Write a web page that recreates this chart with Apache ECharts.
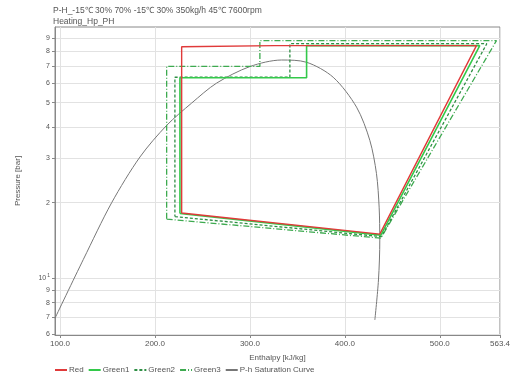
<!DOCTYPE html>
<html>
<head>
<meta charset="utf-8">
<script src="https://cdn.jsdelivr.net/npm/echarts@6/dist/echarts.min.js"></script>
<style>
  html, body { margin: 0; padding: 0; background: #fff; }
  #chart { width: 513px; height: 378px; }
</style>
</head>
<body>
<div id="chart"></div>
<script>
// tick values
const xTicks = [100, 200, 300, 400, 500, 563.4]
const yTicks = [0.6, 0.7, 0.8, 0.9, 1, 2, 3, 4, 5, 6, 7, 8, 9]

// cycles (enthalpy kJ/kg, pressure bar)
const redH = [228.1, 436.8, 538.6, 326, 326, 228.1, 228.1]
const redP = [1.82, 1.50, 8.43, 8.43, 8.35, 8.35, 1.82]
const green1H = [226.3, 437.9, 542.1, 359.7, 359.7, 226.3, 226.3]
const green1P = [1.81, 1.486, 8.43, 8.43, 6.28, 6.28, 1.81]
const green2H = [221, 438.5, 549.5, 342.1, 342.1, 221, 221]
const green2P = [1.76, 1.465, 8.58, 8.58, 6.31, 6.31, 1.76]
const green3H = [212.3, 437.9, 559.7, 310.5, 310.5, 212.3, 212.3]
const green3P = [1.72, 1.445, 8.83, 8.83, 6.97, 6.97, 1.72]

// saturation curve
const satH = [94.7, 124.6, 154.4, 184.2, 212.3, 238.6, 264.9, 300, 333.3, 359.6, 387.7, 412.3, 426.3, 433.3, 436.1, 436.8, 435.4, 431.6]
const satP = [0.694, 1.19, 2.0, 3.04, 4.06, 4.98, 5.98, 6.96, 7.39, 7.24, 6.31, 4.80, 3.54, 2.61, 1.92, 1.42, 0.985, 0.683]

const zip = (h, p) => h.map((v, i) => [v, p[i]])

const chart = echarts.init(document.getElementById('chart'))
const font = 'Liberation Sans, Arial, sans-serif'

const option = {
  animation: false,
  textStyle: { fontFamily: font },
  title: {
    text: 'P-H_-15℃ 30% 70% -15℃ 30% 350kg/h 45℃ 7600rpm',
    subtext: 'Heating_Hp_PH',
    left: 53,
    top: 5,
    itemGap: 0,
    padding: 0,
    textStyle: { fontSize: 8.5, fontWeight: 'normal', color: '#555', lineHeight: 11 },
    subtextStyle: { fontSize: 8.5, color: '#555', lineHeight: 11 }
  },
  legend: {
    left: 54,
    top: 366,
    itemWidth: 12,
    itemHeight: 8,
    itemGap: 4,
    padding: 0,
    itemStyle: { opacity: 0 },
    textStyle: { fontSize: 8, color: '#555', padding: [0, 0, 0, -3] },
    data: ['Red', 'Green1', 'Green2', 'Green3', 'P-h Saturation Curve']
  },
  grid: {
    left: 55,
    right: 12.5,
    top: 27,
    bottom: 43,
    show: true,
    borderColor: '#888',
    borderWidth: 1
  },
  xAxis: {
    type: 'value',
    min: 94.7,
    max: 563.4,
    name: 'Enthalpy [kJ/kg]',
    nameLocation: 'middle',
    nameGap: 19,
    nameTextStyle: { fontSize: 8, color: '#555' },
    axisLine: { lineStyle: { color: '#888' } },
    axisTick: { customValues: xTicks, length: 3, lineStyle: { color: '#888' } },
    axisLabel: {
      customValues: xTicks,
      fontSize: 8,
      color: '#555',
      margin: 5,
      formatter: v => v.toFixed(1)
    },
    splitLine: { show: true, lineStyle: { color: '#e2e2e2', width: 1 } }
  },
  yAxis: {
    type: 'log',
    logBase: 10,
    min: 0.595,
    max: 10,
    name: 'Pressure [bar]',
    nameLocation: 'middle',
    nameGap: 33,
    nameTextStyle: { fontSize: 8, color: '#555' },
    axisLine: { lineStyle: { color: '#888' } },
    axisTick: { customValues: yTicks, length: 3, lineStyle: { color: '#888' } },
    axisLabel: {
      customValues: yTicks,
      fontSize: 7,
      color: '#555',
      margin: 5,
      formatter: v => {
        if (Math.abs(v - 1) < 1e-6) return '10{s|1}'
        if (v < 1) return String(Math.round(v * 10))
        return String(Math.round(v))
      },
      rich: { s: { fontSize: 5, verticalAlign: 'top', padding: [0, 0, 5, 1], color: '#555' } }
    },
    splitLine: { show: true, lineStyle: { color: '#e2e2e2', width: 1 } }
  },
  series: [
    {
      name: 'P-h Saturation Curve',
      type: 'line',
      smooth: 0.3,
      symbol: 'none',
      data: zip(satH, satP),
      lineStyle: { color: '#777', width: 1 },
      itemStyle: { color: '#777' }
    },
    {
      name: 'Green3',
      type: 'line',
      symbol: 'none',
      data: zip(green3H, green3P),
      lineStyle: { color: '#3daa4f', width: 1.3, type: [6, 2, 1, 2] },
      itemStyle: { color: '#3daa4f' }
    },
    {
      name: 'Green2',
      type: 'line',
      symbol: 'none',
      data: zip(green2H, green2P),
      lineStyle: { color: '#2f8f45', width: 1.3, type: [3, 2] },
      itemStyle: { color: '#2f8f45' }
    },
    {
      name: 'Green1',
      type: 'line',
      symbol: 'none',
      data: zip(green1H, green1P),
      lineStyle: { color: '#33c94a', width: 1.6 },
      itemStyle: { color: '#33c94a' }
    },
    {
      name: 'Red',
      type: 'line',
      symbol: 'none',
      data: zip(redH, redP),
      lineStyle: { color: '#e03a3a', width: 1.4 },
      itemStyle: { color: '#e03a3a' }
    }
  ]
}

chart.setOption(option)
</script>
</body>
</html>
